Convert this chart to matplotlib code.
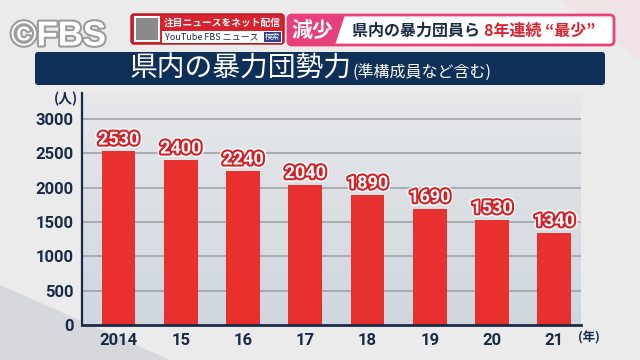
import matplotlib
matplotlib.use("Agg")
import matplotlib.pyplot as plt
import matplotlib.patheffects as pe
from matplotlib.patches import FancyBboxPatch, Polygon, Rectangle
from matplotlib.colors import LinearSegmentedColormap
import numpy as np

years = ["2014", "15", "16", "17", "18", "19", "20", "21"]
members = [2530, 2400, 2240, 2040, 1890, 1690, 1530, 1340]
yticks = [0, 500, 1000, 1500, 2000, 2500, 3000]

title_main = "県内の暴力団勢力"
title_sub = "(準構成員など含む)"
y_unit = "(人)"
x_unit = "(年)"

JP = ["Noto Sans CJK JP", "DejaVu Sans"]
NUM = ["Roboto", "DejaVu Sans"]
NAVY = "#1b2a47"
BAR = "#e8302f"

W, H = 640, 360
fig = plt.figure(figsize=(6.4, 3.6), dpi=100)
fig.patch.set_facecolor("#ebebeb")

bg = fig.add_axes([0, 0, 1, 1])
bg.set_xlim(0, W)
bg.set_ylim(H, 0)
bg.axis("off")
bg.add_patch(Polygon([[0, 285], [170, 360], [0, 360]], closed=True,
                     facecolor="#d6d8db", edgecolor="none"))
bg.add_patch(Polygon([[560, 0], [640, 0], [640, 60]], closed=True,
                     facecolor="#efe3e6", edgecolor="none"))

# ©FBS
bg.text(11, 36, "©FBS", fontsize=25, fontweight="bold", color="white",
        family=["Liberation Sans", "DejaVu Sans"], va="center", ha="left",
        path_effects=[pe.withStroke(linewidth=3, foreground="#9c9c9c")])

# news box
bg.add_patch(FancyBboxPatch((131, 14), 153, 30, boxstyle="round,pad=0,rounding_size=3",
                            facecolor="#d8222d", edgecolor="#b01822", lw=1))
bg.add_patch(Rectangle((134, 16), 26, 26, facecolor="white", edgecolor="none"))
bg.add_patch(Rectangle((136, 18), 22, 22, facecolor="#8a8a8a", edgecolor="none", hatch="++"))
bg.text(222, 22.5, "注目ニュースをネット配信", fontsize=7, fontweight="bold", color="white",
        family=JP, ha="center", va="center")
bg.add_patch(Rectangle((162, 31), 120, 12, facecolor="white", edgecolor="none"))
bg.add_patch(Rectangle((264, 32), 17, 10, facecolor="#2b3f8c", edgecolor="none"))
bg.text(165, 37, "YouTube FBS ニュース", fontsize=6.5, color=NAVY, family=JP,
        ha="left", va="center")
bg.text(272.5, 37, "検索", fontsize=5.5, color="white", family=JP, ha="center", va="center")

# headline strip
bg.add_patch(FancyBboxPatch((288, 15), 326, 30, boxstyle="round,pad=0,rounding_size=4",
                            facecolor="white", edgecolor="#e8407a", lw=2))
bg.add_patch(Polygon([[288, 15], [345, 15], [335, 45], [288, 45]], closed=True,
                     facecolor="#e8407a", edgecolor="none"))
bg.text(312, 30, "減少", fontsize=15, fontweight="bold", color="white", family=JP,
        ha="center", va="center")
t1 = bg.text(352, 31, "県内の暴力団員ら ", fontsize=11.5, fontweight="bold", color=NAVY,
             family=JP, ha="left", va="center")
fig.canvas.draw()
x_end = t1.get_window_extent().x1
bg.annotate("8年連続 “最少”", xy=(x_end, 0), xycoords=("figure pixels", "data"),
            xytext=(x_end, 31), textcoords=("figure pixels", "data"),
            fontsize=11.5, fontweight="bold", color="#e0202a", family=JP,
            ha="left", va="center")

# title banner
bg.add_patch(FancyBboxPatch((35, 52), 570, 33, boxstyle="round,pad=0,rounding_size=3",
                            facecolor="#0e2f57", edgecolor="none"))
tm = bg.text(130, 69, title_main, fontsize=20, color="white", family=JP,
             ha="left", va="center")
fig.canvas.draw()
tx = tm.get_window_extent().x1
bg.annotate(title_sub, xy=(tx, 0), xycoords=("figure pixels", "data"),
            xytext=(tx + 1, 72), textcoords=("figure pixels", "data"),
            fontsize=11.5, color="white", family=JP, ha="left", va="center")

# chart axes
left, right, top, bottom = 82, 581, 93, 325
ax = fig.add_axes([left / W, (H - bottom) / H, (right - left) / W, (bottom - top) / H])
ax.set_facecolor("none")
xlo, xhi, ytop = -0.587, 7.43, 3380
ax.set_xlim(xlo, xhi)
grad = np.linspace(0, 1, 256).reshape(-1, 1)
cmap = LinearSegmentedColormap.from_list("g", ["#cfd6de", "#e6e8ea"])
ax.imshow(grad, extent=[xlo, xhi, ytop, 0], aspect="auto", cmap=cmap, zorder=0,
          origin="upper")
ax.set_ylim(0, ytop)
for yv in yticks[1:]:
    ax.axhline(yv, color="#9da3aa", lw=1.2, zorder=1)

x = np.arange(len(years))
ax.bar(x, members, width=0.54, color=BAR, zorder=2)
for xi, v in zip(x, members):
    ax.annotate(str(v), (xi, v), xytext=(0, 2), textcoords="offset points",
                ha="center", va="bottom", fontsize=13, fontweight="bold",
                color="white", family=["Liberation Sans Narrow", "Roboto", "DejaVu Sans"],
                zorder=4,
                path_effects=[pe.Stroke(linewidth=5, foreground="white"),
                              pe.Stroke(linewidth=3, foreground="#d42024"),
                              pe.Normal()])

ax.set_xticks(x)
ax.set_xticklabels(years)
ax.set_yticks(yticks)
ax.set_yticklabels([str(v) for v in yticks])
ax.tick_params(length=0, labelsize=12, colors=NAVY, pad=6)
for lab in ax.get_xticklabels() + ax.get_yticklabels():
    lab.set_family(NUM)
    lab.set_fontweight("bold")
for s in ["top", "right"]:
    ax.spines[s].set_visible(False)
ax.spines["left"].set_color(NAVY)
ax.spines["left"].set_linewidth(1.6)
ax.spines["bottom"].set_color(NAVY)
ax.spines["bottom"].set_linewidth(2)
ax.spines["left"].set_zorder(5)
ax.spines["bottom"].set_zorder(5)

bg.text(66, 99, y_unit, fontsize=10, fontweight="bold", color=NAVY, family=JP,
        ha="center", va="center")
bg.text(589, 338, x_unit, fontsize=9, fontweight="bold", color=NAVY, family=JP,
        ha="center", va="center")

fig.savefig("out.png", dpi=100, facecolor=fig.get_facecolor())
